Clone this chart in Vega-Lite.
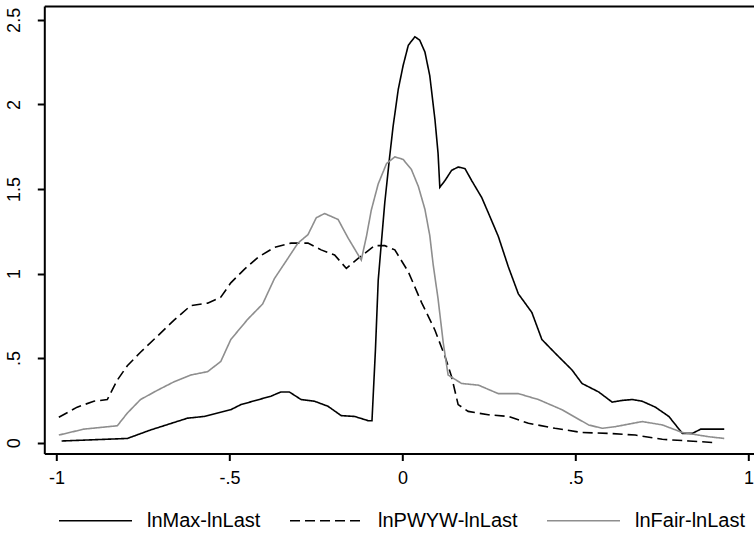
{
  "$schema": "https://vega.github.io/schema/vega-lite/v6.json",
  "autosize": {"type": "none"},
  "width": 709.7,
  "height": 447.5,
  "padding": {"left": 44.3, "top": 6, "right": 0, "bottom": 80.5},
  "background": "white",
  "config": {
    "view": {"stroke": null},
    "axis": {
      "domainColor": "#000000", "domainWidth": 2,
      "tickColor": "#000000", "tickWidth": 2, "tickSize": 7,
      "labelFont": "Liberation Sans", "labelFontSize": 18, "labelColor": "#000000",
      "grid": false, "title": null
    }
  },
  "datasets": {
    "curves": [
      {"series": "lnMax-lnLast", "x": -0.985, "y": 0.01},
      {"series": "lnMax-lnLast", "x": -0.795, "y": 0.025},
      {"series": "lnMax-lnLast", "x": -0.728, "y": 0.075},
      {"series": "lnMax-lnLast", "x": -0.621, "y": 0.145},
      {"series": "lnMax-lnLast", "x": -0.573, "y": 0.155},
      {"series": "lnMax-lnLast", "x": -0.496, "y": 0.195},
      {"series": "lnMax-lnLast", "x": -0.467, "y": 0.225},
      {"series": "lnMax-lnLast", "x": -0.38, "y": 0.275},
      {"series": "lnMax-lnLast", "x": -0.351, "y": 0.3},
      {"series": "lnMax-lnLast", "x": -0.327, "y": 0.3},
      {"series": "lnMax-lnLast", "x": -0.293, "y": 0.255},
      {"series": "lnMax-lnLast", "x": -0.254, "y": 0.245},
      {"series": "lnMax-lnLast", "x": -0.215, "y": 0.215},
      {"series": "lnMax-lnLast", "x": -0.177, "y": 0.16},
      {"series": "lnMax-lnLast", "x": -0.138, "y": 0.155},
      {"series": "lnMax-lnLast", "x": -0.099, "y": 0.13},
      {"series": "lnMax-lnLast", "x": -0.088, "y": 0.13},
      {"series": "lnMax-lnLast", "x": -0.078, "y": 0.55},
      {"series": "lnMax-lnLast", "x": -0.07, "y": 0.96},
      {"series": "lnMax-lnLast", "x": -0.061, "y": 1.18},
      {"series": "lnMax-lnLast", "x": -0.051, "y": 1.42},
      {"series": "lnMax-lnLast", "x": -0.037, "y": 1.69},
      {"series": "lnMax-lnLast", "x": -0.027, "y": 1.87},
      {"series": "lnMax-lnLast", "x": -0.012, "y": 2.09},
      {"series": "lnMax-lnLast", "x": 0.002, "y": 2.23},
      {"series": "lnMax-lnLast", "x": 0.017, "y": 2.35},
      {"series": "lnMax-lnLast", "x": 0.036, "y": 2.4},
      {"series": "lnMax-lnLast", "x": 0.05, "y": 2.38},
      {"series": "lnMax-lnLast", "x": 0.065, "y": 2.31},
      {"series": "lnMax-lnLast", "x": 0.079, "y": 2.17},
      {"series": "lnMax-lnLast", "x": 0.094, "y": 1.91},
      {"series": "lnMax-lnLast", "x": 0.103, "y": 1.71},
      {"series": "lnMax-lnLast", "x": 0.108, "y": 1.51},
      {"series": "lnMax-lnLast", "x": 0.123, "y": 1.55},
      {"series": "lnMax-lnLast", "x": 0.142, "y": 1.61},
      {"series": "lnMax-lnLast", "x": 0.161, "y": 1.63},
      {"series": "lnMax-lnLast", "x": 0.181, "y": 1.62},
      {"series": "lnMax-lnLast", "x": 0.2, "y": 1.55},
      {"series": "lnMax-lnLast", "x": 0.229, "y": 1.45},
      {"series": "lnMax-lnLast", "x": 0.248, "y": 1.36},
      {"series": "lnMax-lnLast", "x": 0.277, "y": 1.22},
      {"series": "lnMax-lnLast", "x": 0.306, "y": 1.04},
      {"series": "lnMax-lnLast", "x": 0.335, "y": 0.88},
      {"series": "lnMax-lnLast", "x": 0.374, "y": 0.77},
      {"series": "lnMax-lnLast", "x": 0.403, "y": 0.61},
      {"series": "lnMax-lnLast", "x": 0.441, "y": 0.53},
      {"series": "lnMax-lnLast", "x": 0.49, "y": 0.43},
      {"series": "lnMax-lnLast", "x": 0.519, "y": 0.35},
      {"series": "lnMax-lnLast", "x": 0.567, "y": 0.3},
      {"series": "lnMax-lnLast", "x": 0.606, "y": 0.24},
      {"series": "lnMax-lnLast", "x": 0.635, "y": 0.25},
      {"series": "lnMax-lnLast", "x": 0.664, "y": 0.255},
      {"series": "lnMax-lnLast", "x": 0.693, "y": 0.245},
      {"series": "lnMax-lnLast", "x": 0.731, "y": 0.21},
      {"series": "lnMax-lnLast", "x": 0.77, "y": 0.155},
      {"series": "lnMax-lnLast", "x": 0.809, "y": 0.055},
      {"series": "lnMax-lnLast", "x": 0.838, "y": 0.055},
      {"series": "lnMax-lnLast", "x": 0.862, "y": 0.08},
      {"series": "lnMax-lnLast", "x": 0.93, "y": 0.08},

      {"series": "lnPWYW-lnLast", "x": -0.993, "y": 0.15},
      {"series": "lnPWYW-lnLast", "x": -0.94, "y": 0.21},
      {"series": "lnPWYW-lnLast", "x": -0.892, "y": 0.245},
      {"series": "lnPWYW-lnLast", "x": -0.853, "y": 0.255},
      {"series": "lnPWYW-lnLast", "x": -0.824, "y": 0.37},
      {"series": "lnPWYW-lnLast", "x": -0.795, "y": 0.455},
      {"series": "lnPWYW-lnLast", "x": -0.757, "y": 0.535},
      {"series": "lnPWYW-lnLast", "x": -0.708, "y": 0.63},
      {"series": "lnPWYW-lnLast", "x": -0.66, "y": 0.725},
      {"series": "lnPWYW-lnLast", "x": -0.612, "y": 0.81},
      {"series": "lnPWYW-lnLast", "x": -0.563, "y": 0.825},
      {"series": "lnPWYW-lnLast", "x": -0.525, "y": 0.86},
      {"series": "lnPWYW-lnLast", "x": -0.496, "y": 0.945},
      {"series": "lnPWYW-lnLast", "x": -0.457, "y": 1.025},
      {"series": "lnPWYW-lnLast", "x": -0.418, "y": 1.095},
      {"series": "lnPWYW-lnLast", "x": -0.37, "y": 1.155},
      {"series": "lnPWYW-lnLast", "x": -0.322, "y": 1.18},
      {"series": "lnPWYW-lnLast", "x": -0.273, "y": 1.18},
      {"series": "lnPWYW-lnLast", "x": -0.235, "y": 1.14},
      {"series": "lnPWYW-lnLast", "x": -0.196, "y": 1.11},
      {"series": "lnPWYW-lnLast", "x": -0.162, "y": 1.03},
      {"series": "lnPWYW-lnLast", "x": -0.128, "y": 1.09},
      {"series": "lnPWYW-lnLast", "x": -0.08, "y": 1.165},
      {"series": "lnPWYW-lnLast", "x": -0.051, "y": 1.165},
      {"series": "lnPWYW-lnLast", "x": -0.022, "y": 1.14},
      {"series": "lnPWYW-lnLast", "x": 0.017, "y": 1.01},
      {"series": "lnPWYW-lnLast", "x": 0.055, "y": 0.83},
      {"series": "lnPWYW-lnLast", "x": 0.094, "y": 0.665},
      {"series": "lnPWYW-lnLast", "x": 0.123, "y": 0.51},
      {"series": "lnPWYW-lnLast", "x": 0.142, "y": 0.39},
      {"series": "lnPWYW-lnLast", "x": 0.161, "y": 0.225},
      {"series": "lnPWYW-lnLast", "x": 0.19, "y": 0.185},
      {"series": "lnPWYW-lnLast", "x": 0.248, "y": 0.165},
      {"series": "lnPWYW-lnLast", "x": 0.306, "y": 0.155},
      {"series": "lnPWYW-lnLast", "x": 0.364, "y": 0.115},
      {"series": "lnPWYW-lnLast", "x": 0.441, "y": 0.085},
      {"series": "lnPWYW-lnLast", "x": 0.519, "y": 0.06},
      {"series": "lnPWYW-lnLast", "x": 0.596, "y": 0.055},
      {"series": "lnPWYW-lnLast", "x": 0.673, "y": 0.045},
      {"series": "lnPWYW-lnLast", "x": 0.751, "y": 0.02},
      {"series": "lnPWYW-lnLast", "x": 0.828, "y": 0.01},
      {"series": "lnPWYW-lnLast", "x": 0.906, "y": 0.0},

      {"series": "lnFair-lnLast", "x": -0.993, "y": 0.045},
      {"series": "lnFair-lnLast", "x": -0.921, "y": 0.08},
      {"series": "lnFair-lnLast", "x": -0.824, "y": 0.1},
      {"series": "lnFair-lnLast", "x": -0.795, "y": 0.175},
      {"series": "lnFair-lnLast", "x": -0.757, "y": 0.255},
      {"series": "lnFair-lnLast", "x": -0.708, "y": 0.31},
      {"series": "lnFair-lnLast", "x": -0.66, "y": 0.36},
      {"series": "lnFair-lnLast", "x": -0.612, "y": 0.4},
      {"series": "lnFair-lnLast", "x": -0.563, "y": 0.42},
      {"series": "lnFair-lnLast", "x": -0.525, "y": 0.48},
      {"series": "lnFair-lnLast", "x": -0.496, "y": 0.61},
      {"series": "lnFair-lnLast", "x": -0.447, "y": 0.73},
      {"series": "lnFair-lnLast", "x": -0.404, "y": 0.82},
      {"series": "lnFair-lnLast", "x": -0.37, "y": 0.97},
      {"series": "lnFair-lnLast", "x": -0.331, "y": 1.09},
      {"series": "lnFair-lnLast", "x": -0.302, "y": 1.18},
      {"series": "lnFair-lnLast", "x": -0.273, "y": 1.23},
      {"series": "lnFair-lnLast", "x": -0.249, "y": 1.33},
      {"series": "lnFair-lnLast", "x": -0.225, "y": 1.355},
      {"series": "lnFair-lnLast", "x": -0.186, "y": 1.32},
      {"series": "lnFair-lnLast", "x": -0.157, "y": 1.21},
      {"series": "lnFair-lnLast", "x": -0.119, "y": 1.08},
      {"series": "lnFair-lnLast", "x": -0.104, "y": 1.22},
      {"series": "lnFair-lnLast", "x": -0.09, "y": 1.375},
      {"series": "lnFair-lnLast", "x": -0.07, "y": 1.53},
      {"series": "lnFair-lnLast", "x": -0.046, "y": 1.65},
      {"series": "lnFair-lnLast", "x": -0.022, "y": 1.69},
      {"series": "lnFair-lnLast", "x": 0.002, "y": 1.675},
      {"series": "lnFair-lnLast", "x": 0.026, "y": 1.615},
      {"series": "lnFair-lnLast", "x": 0.046, "y": 1.515},
      {"series": "lnFair-lnLast", "x": 0.065, "y": 1.38},
      {"series": "lnFair-lnLast", "x": 0.079, "y": 1.225},
      {"series": "lnFair-lnLast", "x": 0.089, "y": 1.05},
      {"series": "lnFair-lnLast", "x": 0.103, "y": 0.85},
      {"series": "lnFair-lnLast", "x": 0.118, "y": 0.59},
      {"series": "lnFair-lnLast", "x": 0.132, "y": 0.4},
      {"series": "lnFair-lnLast", "x": 0.171, "y": 0.35},
      {"series": "lnFair-lnLast", "x": 0.22, "y": 0.34},
      {"series": "lnFair-lnLast", "x": 0.277, "y": 0.29},
      {"series": "lnFair-lnLast", "x": 0.335, "y": 0.29},
      {"series": "lnFair-lnLast", "x": 0.393, "y": 0.255},
      {"series": "lnFair-lnLast", "x": 0.461, "y": 0.195},
      {"series": "lnFair-lnLast", "x": 0.538, "y": 0.105},
      {"series": "lnFair-lnLast", "x": 0.577, "y": 0.085},
      {"series": "lnFair-lnLast", "x": 0.616, "y": 0.095},
      {"series": "lnFair-lnLast", "x": 0.693, "y": 0.125},
      {"series": "lnFair-lnLast", "x": 0.751, "y": 0.105},
      {"series": "lnFair-lnLast", "x": 0.809, "y": 0.06},
      {"series": "lnFair-lnLast", "x": 0.886, "y": 0.035},
      {"series": "lnFair-lnLast", "x": 0.93, "y": 0.025}
    ]
  },
  "data": {"name": "curves"},
  "resolve": {"axis": {"x": "independent"}},
  "layer": [
    {
      "mark": {"type": "line", "strokeWidth": 1.6, "clip": true},
      "encoding": {
        "x": {
          "field": "x", "type": "quantitative",
          "scale": {"domain": [-1.035, 1.016], "nice": false, "zero": false},
          "axis": {
            "orient": "bottom",
            "values": [-1, -0.5, 0, 0.5, 1],
            "labelExpr": "datum.value == -1 ? '-1' : datum.value == -0.5 ? '-.5' : datum.value == 0 ? '0' : datum.value == 0.5 ? '.5' : '1'",
            "labelPadding": 9,
            "labelFlush": false,
            "labelOverlap": false
          }
        },
        "y": {
          "field": "y", "type": "quantitative",
          "scale": {"domain": [-0.064, 2.582], "nice": false, "zero": false},
          "axis": {
            "orient": "left",
            "values": [0, 0.5, 1, 1.5, 2, 2.5],
            "labelExpr": "datum.value == 0 ? '0' : datum.value == 0.5 ? '.5' : datum.value == 1 ? '1' : datum.value == 1.5 ? '1.5' : datum.value == 2 ? '2' : '2.5'",
            "labelAngle": -90,
            "labelAlign": "center",
            "labelBaseline": "bottom",
            "labelPadding": 14,
            "labelFlush": false,
            "labelOverlap": false
          }
        },
        "color": {
          "field": "series", "type": "nominal", "title": null,
          "scale": {
            "domain": ["lnMax-lnLast", "lnPWYW-lnLast", "lnFair-lnLast"],
            "range": ["#000000", "#000000", "#8e8e8e"]
          },
          "legend": {
            "orient": "none",
            "legendX": 13.7,
            "legendY": 477,
            "direction": "horizontal",
            "symbolType": "stroke",
            "symbolSize": 5329,
            "symbolStrokeWidth": 1.6,
            "labelFont": "Liberation Sans",
            "labelFontSize": 20,
            "labelColor": "#000000",
            "labelOffset": 14,
            "columnPadding": 25,
            "padding": 0,
            "title": null
          }
        },
        "strokeDash": {
          "field": "series", "type": "nominal", "title": null,
          "scale": {
            "domain": ["lnMax-lnLast", "lnPWYW-lnLast", "lnFair-lnLast"],
            "range": [[1, 0], [10, 5], [1, 0]]
          }
        },
        "order": {"field": "x", "type": "quantitative"}
      }
    },
    {
      "mark": {"type": "line", "opacity": 0},
      "encoding": {
        "x": {
          "field": "x", "type": "quantitative",
          "axis": {"orient": "top", "labels": false, "ticks": false, "domain": true}
        },
        "y": {"field": "y", "type": "quantitative"}
      }
    }
  ]
}
